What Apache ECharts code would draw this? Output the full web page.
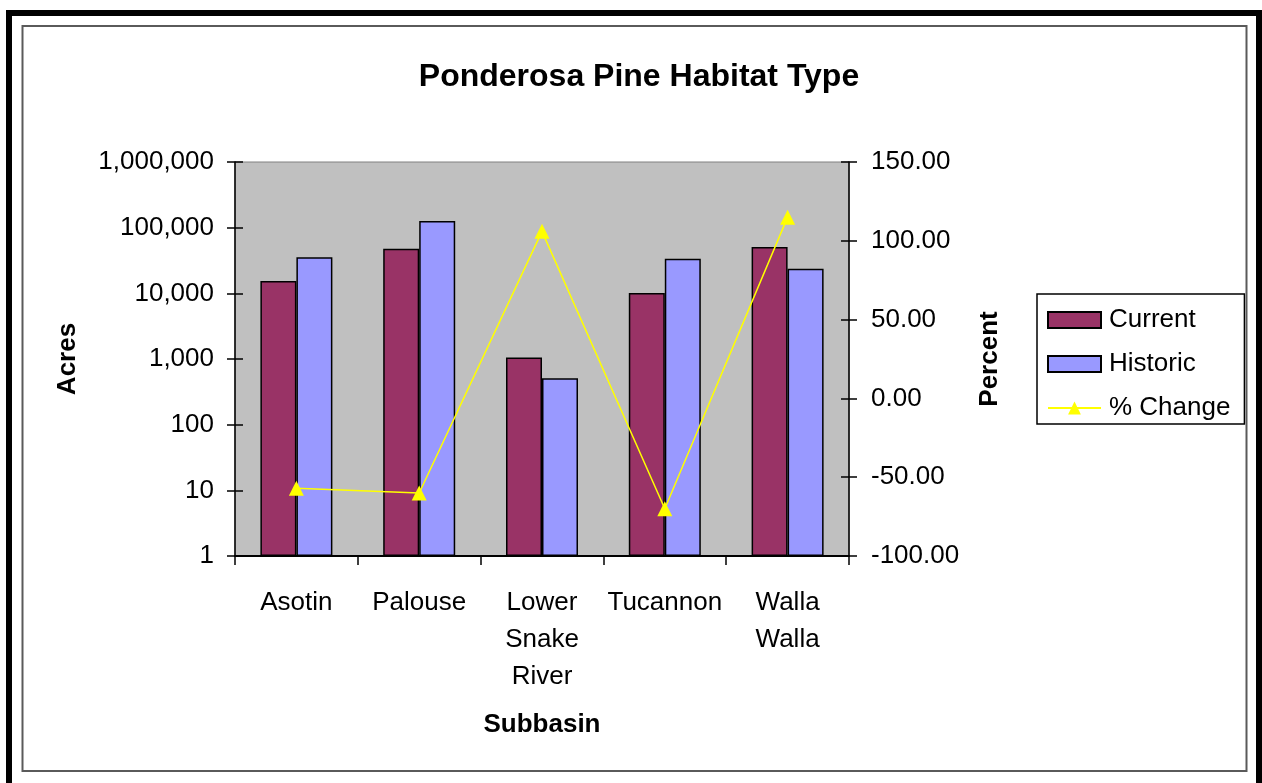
<!DOCTYPE html>
<html>
<head>
<meta charset="utf-8">
<title>Ponderosa Pine Habitat Type</title>
<script src="https://cdn.jsdelivr.net/npm/echarts@6/dist/echarts.min.js"></script>
<style>
  html, body { margin: 0; padding: 0; background: #ffffff; }
  #chart { width: 1262px; height: 783px; }
</style>
</head>
<body>
<div id="chart"></div>
<script>
// Subbasins along the category axis
const categories = ['Asotin', 'Palouse', 'Lower\nSnake\nRiver', 'Tucannon', 'Walla\nWalla'];
// Acres of ponderosa pine habitat (log scale, left axis)
const currentAcres = [15400, 47800, 1050, 10100, 50700];
const historicAcres = [35400, 126000, 510, 33700, 23600];
// Percent change from historic to current (right axis)
const pctChange = [-57, -60, 106, -70, 115];
// Right axis range
const pctMin = -100, pctMax = 150, pctStep = 50;

const FONT = '"Liberation Sans", Arial, sans-serif';
const grid = { left: 235, top: 162, width: 614, height: 394 };

const chart = echarts.init(document.getElementById('chart'), null, { renderer: 'canvas' });

const logAxisBase = {
  type: 'log', logBase: 10, min: 1, max: 1000000, interval: 1, splitNumber: 6,
  position: 'left', splitLine: { show: false }
};
const pctAxisBase = {
  type: 'value', min: pctMin, max: pctMax, interval: pctStep,
  position: 'right', splitLine: { show: false }
};

chart.setOption({
  backgroundColor: '#ffffff',
  animation: false,
  textStyle: { fontFamily: FONT },
  title: {
    text: 'Ponderosa Pine Habitat Type',
    left: 634, top: 56, textAlign: 'center',
    textStyle: { fontFamily: FONT, fontSize: 32, fontWeight: 'bold', color: '#000' }
  },
  grid: Object.assign({ show: true, backgroundColor: '#C0C0C0', borderColor: '#808080', borderWidth: 1, containLabel: false }, grid),
  legend: {
    orient: 'vertical',
    left: 1037, top: 294,
    padding: [13, 14, 3, 10],
    itemGap: 18,
    itemWidth: 53, itemHeight: 16,
    borderColor: '#000', borderWidth: 1.5,
    backgroundColor: '#fff',
    textStyle: { fontFamily: FONT, fontSize: 26, color: '#000', lineHeight: 26, padding: [0, 0, 0, 3] },
    data: [
      { name: 'Current', icon: 'rect' },
      { name: 'Historic', icon: 'rect' },
      { name: '% Change' }
    ]
  },
  xAxis: {
    type: 'category', data: categories, boundaryGap: true,
    name: 'Subbasin', nameLocation: 'middle', nameGap: 156,
    nameTextStyle: { fontFamily: FONT, fontSize: 26, fontWeight: 'bold', color: '#000' },
    axisLine: { onZero: false, lineStyle: { color: '#000', width: 2 } },
    axisTick: { show: true, length: 9, lineStyle: { color: '#000', width: 1.5 } },
    axisLabel: { fontFamily: FONT, fontSize: 26, color: '#000', margin: 28, lineHeight: 37, interval: 0 }
  },
  yAxis: [
    Object.assign({}, logAxisBase, {
      name: 'Acres', nameLocation: 'middle', nameGap: 154, nameRotate: 90,
      nameTextStyle: { fontFamily: FONT, fontSize: 26, fontWeight: 'bold', color: '#000' },
      axisLine: { show: true, lineStyle: { color: '#000', width: 1.5 } },
      axisTick: { show: true, length: 8, lineStyle: { color: '#000', width: 1.5 } },
      axisLabel: {
        fontFamily: FONT, fontSize: 26, color: '#000', margin: 21,
        formatter: v => Math.round(v).toLocaleString('en-US')
      }
    }),
    Object.assign({}, pctAxisBase, {
      name: 'Percent', nameLocation: 'middle', nameGap: 128, nameRotate: 90,
      nameTextStyle: { fontFamily: FONT, fontSize: 26, fontWeight: 'bold', color: '#000' },
      axisLine: { show: true, lineStyle: { color: '#000', width: 1.5 } },
      axisTick: { show: true, length: 8, lineStyle: { color: '#000', width: 1.5 } },
      axisLabel: {
        fontFamily: FONT, fontSize: 26, color: '#000', margin: 22,
        formatter: v => v.toFixed(2)
      }
    }),
    // inner halves of the crossing tick marks
    Object.assign({}, logAxisBase, {
      axisLine: { show: false }, axisLabel: { show: false },
      axisTick: { show: true, inside: true, length: 8, lineStyle: { color: '#000', width: 1.5 } }
    }),
    Object.assign({}, pctAxisBase, {
      axisLine: { show: false }, axisLabel: { show: false },
      axisTick: { show: true, inside: true, length: 8, lineStyle: { color: '#000', width: 1.5 } }
    })
  ],
  series: [
    {
      name: 'Current', type: 'bar', yAxisIndex: 0, data: currentAcres,
      barWidth: 36, barGap: '0%',
      itemStyle: { color: '#993366', borderColor: '#000', borderWidth: 1.5 }
    },
    {
      name: 'Historic', type: 'bar', yAxisIndex: 0, data: historicAcres,
      barWidth: 36, barGap: '0%',
      itemStyle: { color: '#9999FF', borderColor: '#000', borderWidth: 1.5 }
    },
    {
      name: '% Change', type: 'line', yAxisIndex: 1, data: pctChange,
      symbol: 'triangle', symbolSize: 15,
      lineStyle: { color: '#FFFF00', width: 1.5 },
      itemStyle: { color: '#FFFF00', borderWidth: 0 },
      z: 5
    }
  ],
  graphic: [
    // outer heavy frame
    { type: 'rect', silent: true, z: 100,
      shape: { x: 9, y: 13, width: 1250, height: 800 },
      style: { fill: null, stroke: '#000', lineWidth: 6 } },
    // inner chart border
    { type: 'rect', silent: true, z: 100,
      shape: { x: 22.5, y: 26, width: 1224, height: 745 },
      style: { fill: null, stroke: '#5a5a5a', lineWidth: 2 } }
  ]
});
</script>
</body>
</html>
